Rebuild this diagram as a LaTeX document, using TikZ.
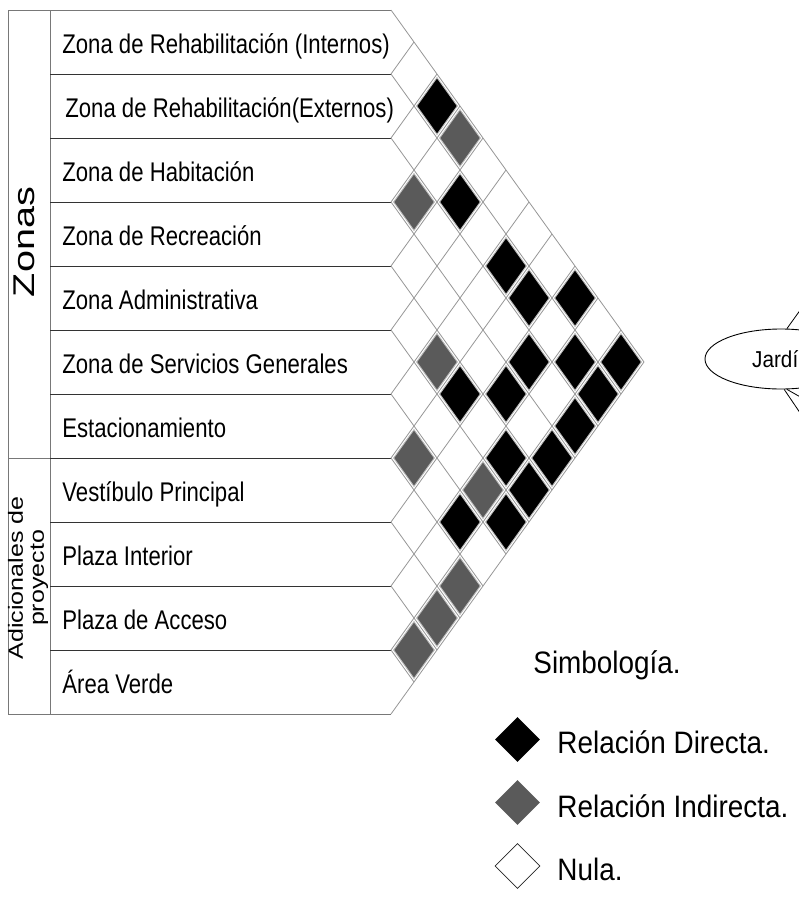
\documentclass[tikz,border=0pt]{standalone}
\usepackage{fontspec}
\setmainfont{Liberation Sans}
\newfontfamily\etiqfont[FakeStretch=0.82]{Liberation Sans}
\newfontfamily\legfont[FakeStretch=0.9]{Liberation Sans}
\newfontfamily\zonafont[FakeStretch=1.32]{Liberation Sans}
\newfontfamily\adicfont[FakeStretch=1.22]{Liberation Sans}
\usetikzlibrary{positioning, shapes.geometric}
\definecolor{grisgrille}{RGB}{150, 150, 150}
\definecolor{grisfonce}{RGB}{90, 90, 90}
\definecolor{griscadre}{RGB}{120, 120, 120}

\begin{document}
\begin{tikzpicture}[x=1pt, y=-1pt, line width=0.8pt,
    celda/.style={diamond, inner sep=0pt, minimum width=41pt, minimum height=57pt, draw=gray!55, line width=0.9pt},
    directa/.style={celda, fill=black},
    indirecta/.style={celda, fill=grisfonce},
    simbolo/.style={diamond, inner sep=0pt, minimum width=45pt, minimum height=45pt},
    etiqueta/.style={anchor=base west, inner sep=0pt, font=\etiqfont\fontsize{27}{27}\selectfont},
    leyenda/.style={anchor=base west, inner sep=0pt, font=\legfont\fontsize{31}{31}\selectfont}]
    \useasboundingbox (0,0) rectangle (799,898);
    \clip (0,0) rectangle (799,898);
    % cadre
    \draw[griscadre] (391,10) -- (8,10) -- (8,714) -- (391,714);
    \draw[griscadre] (50,10) -- (50,714);
    \draw[griscadre] (8,458) -- (391,458);
    \foreach \k in {1,...,10}
      \draw[gray!40!black] (50,10+64*\k) -- (391,10+64*\k);
    % grille
    \foreach \k in {0,...,11} {
      \draw[grisgrille] (391,10+64*\k) -- ++({23*(11-\k)},{32*(11-\k)});
      \draw[grisgrille] (391,10+64*\k) -- ++({23*\k},{-32*\k});
    }
    \foreach \i/\j in {1/3,2/5,2/7,2/8,1/9,3/9,2/10,1/11,5/8,4/9,2/11,3/11,5/10,4/11,5/11,7/10,6/11}
      \node[directa] (d\i-\j) at ({391+23*(\j-\i)},{32*(\i+\j)-22}) {};
    \foreach \i/\j in {1/4,3/4,5/7,7/8,6/10,8/11,9/11,10/11}
      \node[indirecta] (n\i-\j) at ({391+23*(\j-\i)},{32*(\i+\j)-22}) {};
    % etiquetas
    \foreach \k/\x/\txt in {1/62/{Zona de Rehabilitación (Internos)},2/65/{Zona de Rehabilitación(Externos)},
        3/62/{Zona de Habitación},4/62/{Zona de Recreación},5/62/{Zona Administrativa},
        6/62/{Zona de Servicios Generales},7/62/{Estacionamiento},8/62/{Vestíbulo Principal},
        9/62/{Plaza Interior},10/62/{Plaza de Acceso},11/62/{Área Verde}}
      \node[etiqueta] (e\k) at (\x,64*\k-11) {\txt};
    \node[rotate=90, inner sep=0pt, font=\zonafont\fontsize{30}{30}\selectfont] (zonas) at (24,242) {Zonas};
    \node[rotate=90, inner sep=0pt, align=center, font=\adicfont\fontsize{20.5}{21}\selectfont] (adic) at (28,578) {Adicionales de\\proyecto};
    % simbologia
    \node[leyenda] (simb) at (533,673) {Simbología.};
    \node[simbolo, fill=black] (sd) at (517.5,739.5) {};
    \node[simbolo, fill=grisfonce] (si) at (517.5,802.5) {};
    \node[simbolo, draw=gray!30!black, line width=0.7pt] (sn) at (517.5,866) {};
    \node[leyenda] (td) at (557,753) {Relación Directa.};
    \node[leyenda] (ti) at (557,817) {Relación Indirecta.};
    \node[leyenda] (tn) at (557,880) {Nula.};
    % jardin
    \node[ellipse, draw, line width=0.9pt, minimum width=152pt, minimum height=60pt,
      font=\legfont\fontsize{23}{23}\selectfont] (jardin) at (781,359) {Jardín};
    \coordinate (j1) at (811,295);
    \coordinate (j2) at (811,429);
    \coordinate (j3) at (811,403);
    \draw (jardin.79) -- (j1);
    \draw (jardin.-84) -- (j2);
    \draw (jardin.-79) -- (j3);
  \end{tikzpicture}
\end{document}
